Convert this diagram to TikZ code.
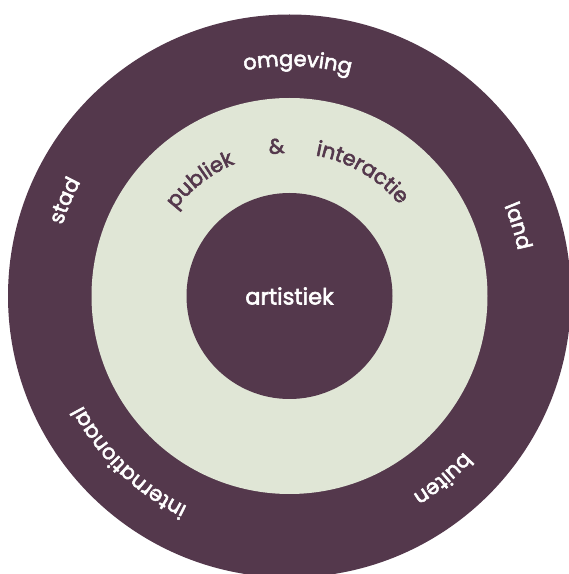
\documentclass[tikz,border=0pt]{standalone}
\usepackage{fontspec}
\setmainfont{Poppins}
\newfontfamily\medfont{Poppins}[FakeBold=2.6]
\definecolor{plum}{HTML}{54384C}
\definecolor{sage}{HTML}{E0E6D6}
\newcommand{\ringfont}{\medfont\fontsize{21}{24}\selectfont}
\newcommand{\corefont}{\medfont\fontsize{22.5}{26}\selectfont}
\newlength\chw
\newlength\chwtmp
\newcommand{\measurech}[1]{%
  \pgfinterruptpicture\settowidth\chwtmp{\ringfont#1}\global\chw=\chwtmp\endpgfinterruptpicture}
\tikzset{
  ring/.style={circle, inner sep=0pt, outer sep=0pt},
  letter/.style={inner sep=0pt, outer sep=0pt, anchor=base, font=\ringfont},
}
% #1 name, #2 radius (baseline), #3 centre angle, #4 colour, #5 letters
\newcommand{\arcword}[5]{%
  \gdef\totw{0}%
  \foreach \ch in {#5}{\measurech{\ch}\pgfmathsetmacro\tmpw{\totw+\the\chw}\xdef\totw{\tmpw}}%
  \gdef\cumw{0}%
  \foreach \ch [count=\k] in {#5}{%
    \measurech{\ch}%
    \pgfmathsetmacro\ang{#3+(\totw/2-\cumw-\the\chw/2)/#2*180/pi}%
    \node[letter, text=#4, rotate=\ang-90] (#1\k) at (\ang:#2pt) {\ch};%
    \pgfmathsetmacro\tmpw{\cumw+\the\chw}\xdef\cumw{\tmpw}%
  }%
}
\begin{document}
\begin{tikzpicture}[x=1pt,y=1pt]
\useasboundingbox (0,0) rectangle (569,574);
\clip (0,0) rectangle (569,574);
\coordinate (C) at (289.5,278);
\node[ring, fill=plum, minimum size=563pt] (outer) at (C) {};
\node[ring, fill=sage, minimum size=396pt] (middle) at (C) {};
\node[ring, fill=plum, minimum size=206pt, text=white, font=\corefont] (core) at (C) {artistiek};
\begin{scope}[shift={(C)}]
\arcword{omg}{230}{88}{white}{o,m,g,e,v,i,n,g}
\arcword{sta}{238}{157}{white}{s,t,a,d}
\arcword{lan}{233}{17}{white}{l,a,n,d}
\arcword{int}{234}{226}{white}{i,n,t,e,r,n,a,t,i,o,n,a,a,l}
\arcword{bui}{234}{310}{white}{b,u,i,t,e,n}
\arcword{pub}{143}{127.6}{plum}{p,u,b,l,i,e,k}
\arcword{amp}{143}{95}{plum}{\&}
\arcword{ia}{143}{59.5}{plum}{i,n,t,e,r,a,c,t,i,e}
\end{scope}
\end{tikzpicture}
\end{document}
